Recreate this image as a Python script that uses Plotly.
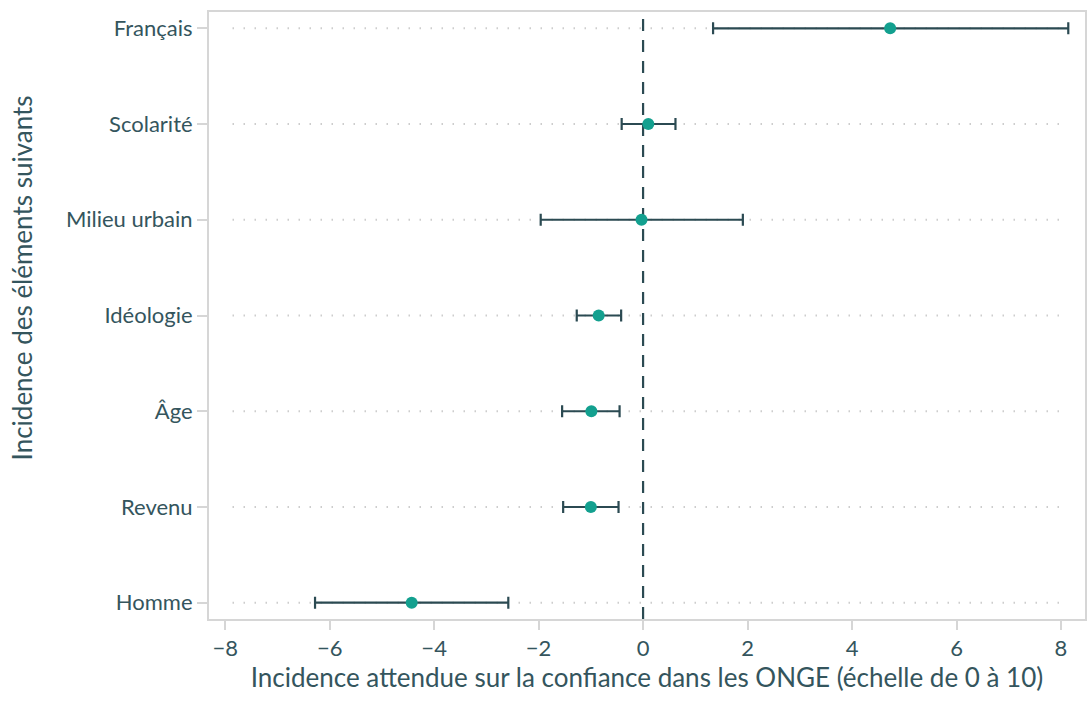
import plotly.graph_objects as go

# Facteurs (du bas vers le haut) et effets estimés avec intervalles de confiance
categories = ["Homme", "Revenu", "Âge", "Idéologie", "Milieu urbain", "Scolarité", "Français"]
estimates = [-4.43, -1.00, -0.99, -0.85, -0.03, 0.10, 4.73]
lower = [-6.28, -1.53, -1.55, -1.27, -1.96, -0.41, 1.34]
upper = [-2.58, -0.47, -0.45, -0.42, 1.91, 0.62, 8.14]
x_ticks = [-8, -6, -4, -2, 0, 2, 4, 6, 8]

x_title = "Incidence attendue sur la confiance dans les ONGE (échelle de 0 à 10)"
y_title = "Incidence des éléments suivants"

TEXT = "#34555d"
DARK = "#2b4a52"
TEAL = "#13a08f"
FRAME = "#d6d6d6"
GRID = "#cdcdcd"
FONT = "Lato, Open Sans, sans-serif"

err_plus = [u - e for u, e in zip(upper, estimates)]
err_minus = [e - l for e, l in zip(estimates, lower)]

fig = go.Figure()

# lignes de repère pointillées pour chaque facteur
for cat in categories:
    fig.add_shape(type="line", xref="x", yref="y", x0=-7.86, x1=8.08, y0=cat, y1=cat,
                  line=dict(color=GRID, width=2, dash="1.5px,9.5px"), layer="below")

# ligne de référence à zéro
fig.add_shape(type="line", xref="x", yref="paper", x0=0, x1=0, y0=0, y1=1,
              line=dict(color=DARK, width=2.2, dash="12px,9px"), layer="below")

fig.add_trace(go.Scatter(
    x=estimates, y=categories, mode="markers",
    marker=dict(color=TEAL, size=12),
    error_x=dict(type="data", symmetric=False, array=err_plus, arrayminus=err_minus,
                 color=DARK, thickness=2.2, width=6),
    showlegend=False, cliponaxis=False,
))

fig.add_annotation(text=y_title, xref="paper", yref="paper",
                   x=(22 - 209) / 878, y=(619 - 278) / 607, textangle=-90,
                   showarrow=False, font=dict(family=FONT, size=26, color=TEXT),
                   xanchor="center", yanchor="middle")

fig.update_layout(
    width=1091, height=715,
    margin=dict(l=209, r=4, t=12, b=96),
    paper_bgcolor="white", plot_bgcolor="rgba(0,0,0,0)",
    font=dict(family=FONT, size=22, color=TEXT),
    xaxis=dict(range=[-8.31, 8.46], tickvals=x_ticks, showgrid=False, zeroline=False,
               showline=True, linecolor=FRAME, linewidth=2, mirror=True,
               ticks="outside", ticklen=9, tickwidth=1.5, tickcolor=FRAME,
               tickfont=dict(size=22, color=TEXT),
               title=dict(text=x_title, font=dict(size=26, color=TEXT), standoff=6)),
    yaxis=dict(categoryorder="array", categoryarray=categories, range=[-0.17, 6.17],
               showgrid=False, zeroline=False,
               showline=True, linecolor=FRAME, linewidth=2, mirror=True,
               ticks="outside", ticklen=10, tickwidth=1.5, tickcolor=FRAME,
               tickfont=dict(size=22, color=TEXT)),
)

fig.write_html("out.html")
